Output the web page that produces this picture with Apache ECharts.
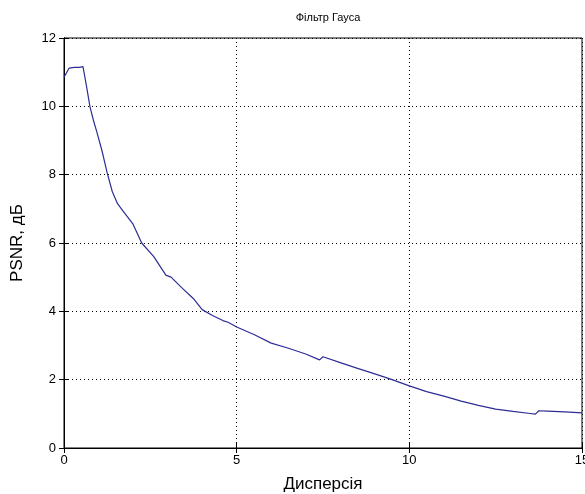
<!DOCTYPE html>
<html>
<head>
<meta charset="utf-8">
<script src="https://cdn.jsdelivr.net/npm/echarts@6/dist/echarts.min.js"></script>
<style>html,body{margin:0;padding:0;background:#fff}#c{width:585px;height:494px}</style>
</head>
<body>
<div id="c"></div>
<script>
var titleText = 'Фільтр Гауса';
var xName = 'Дисперсія';
var yName = 'PSNR, дБ';
var xValues = [0, 0.15, 0.3, 0.45, 0.55, 0.65, 0.75, 0.85, 0.95, 1.1, 1.25, 1.4, 1.55, 1.7, 1.85, 2.0, 2.25, 2.6, 2.95, 3.1, 3.4, 3.75, 4.0, 4.3, 4.6, 4.75, 5.0, 5.5, 6.0, 6.5, 7.0, 7.4, 7.5, 8.0, 8.5, 9.0, 9.5, 10.0, 10.5, 11.0, 11.5, 12.0, 12.5, 13.0, 13.5, 13.65, 13.75, 14.0, 14.5, 15.0];
var psnrValues = [10.85, 11.12, 11.14, 11.14, 11.16, 10.6, 10.0, 9.6, 9.25, 8.7, 8.05, 7.5, 7.15, 6.95, 6.75, 6.55, 6.0, 5.6, 5.06, 5.0, 4.7, 4.37, 4.05, 3.88, 3.73, 3.68, 3.54, 3.32, 3.07, 2.92, 2.75, 2.58, 2.67, 2.5, 2.33, 2.17, 2.0, 1.82, 1.65, 1.52, 1.37, 1.25, 1.14, 1.07, 1.01, 0.99, 1.09, 1.08, 1.06, 1.03];

var data = xValues.map(function (x, i) { return [x, psnrValues[i]]; });
var font = 'Liberation Sans, Arial, sans-serif';
var chart = echarts.init(document.getElementById('c'), null, {renderer: 'canvas'});
var dotted = {color: '#000', width: 1, type: [1, 3]};
chart.setOption({
  animation: false,
  backgroundColor: '#fff',
  title: {
    text: titleText, left: 323, top: 7, textAlign: 'center',
    textStyle: {fontFamily: font, fontSize: 11, fontWeight: 'normal', color: '#000'}
  },
  grid: {left: 64, right: 3, top: 38, bottom: 46, containLabel: false, outerBoundsMode: 'none', show: true, borderColor: '#000', borderWidth: 1, backgroundColor: '#fff'},
  xAxis: [{
    type: 'value', min: 0, max: 15, interval: 5, position: 'bottom',
    name: xName, nameLocation: 'middle', nameGap: 28,
    nameTextStyle: {fontFamily: font, fontSize: 17, color: '#000'},
    axisLine: {show: true, lineStyle: {color: '#000'}},
    axisTick: {show: true, inside: true, length: 5, lineStyle: {color: '#000'}},
    axisLabel: {fontFamily: font, fontSize: 13, color: '#000', margin: 6},
    splitLine: {show: true, lineStyle: dotted}
  }, {
    type: 'value', min: 0, max: 15, interval: 5, position: 'top',
    axisLine: {show: true, lineStyle: {color: '#000'}},
    axisTick: {show: true, inside: true, length: 5, lineStyle: {color: '#000'}},
    axisLabel: {show: false}, splitLine: {show: false}
  }],
  yAxis: [{
    type: 'value', min: 0, max: 12, interval: 2, position: 'left',
    name: yName, nameLocation: 'middle', nameGap: 38, nameRotate: 90,
    nameTextStyle: {fontFamily: font, fontSize: 17, color: '#000'},
    axisLine: {show: true, lineStyle: {color: '#000'}},
    axisTick: {show: true, inside: true, length: 5, lineStyle: {color: '#000'}},
    axisLabel: {fontFamily: font, fontSize: 13, color: '#000', margin: 8},
    splitLine: {show: true, lineStyle: dotted}
  }, {
    type: 'value', min: 0, max: 12, interval: 2, position: 'right',
    axisLine: {show: true, lineStyle: {color: '#000'}},
    axisTick: {show: true, inside: true, length: 5, lineStyle: {color: '#000'}},
    axisLabel: {show: false}, splitLine: {show: false}
  }],
  series: [{
    type: 'line', data: data, xAxisIndex: 0, yAxisIndex: 0,
    showSymbol: false, symbol: 'none',
    lineStyle: {color: '#2d2d96', width: 1.2}
  }]
});
</script>
</body>
</html>
